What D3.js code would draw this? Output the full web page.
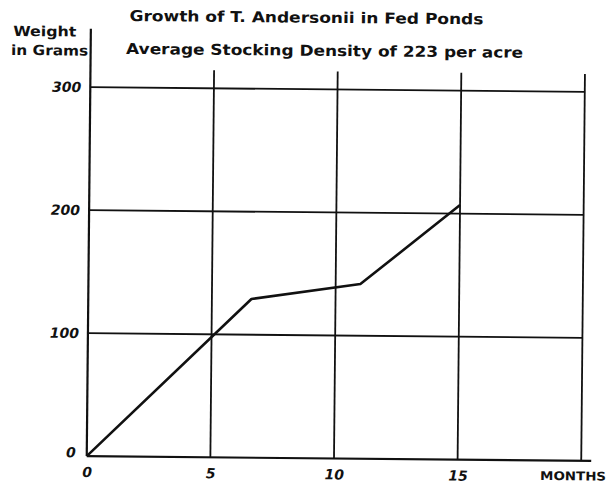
<!DOCTYPE html>
<html>
<head>
<meta charset="utf-8">
<script src="https://cdn.jsdelivr.net/npm/d3@7"></script>
<style>
  html, body { margin: 0; padding: 0; background: #fff; }
  svg { display: block; }
  text { fill: #111; }
</style>
</head>
<body>
<script>
// Growth of T. Andersonii in fed ponds: mean weight (g) by month
const months  = [0, 6.6, 11, 15];
const weights = [0, 129, 142, 207];

const xTicks = [0, 5, 10, 15];
const xTickLabels = ["0", "5", "10", "15"];
const xGrid = [5, 10, 15, 20];
const yTicks = [0, 100, 200, 300];
const yTickLabels = ["0", "100", "200", "300"];
const yGrid = [100, 200, 300];

const titleLines = [
  "Growth of T. Andersonii in Fed Ponds",
  "Average Stocking Density of 223 per acre"
];
const yAxisTitle = ["Weight", "in Grams"];
const xAxisTitle = "MONTHS";

const W = 616, H = 483;
const svg = d3.select("body").append("svg")
  .attr("width", W).attr("height", H)
  .attr("viewBox", `0 0 ${W} ${H}`);

// the whole sheet sits slightly turned
const g = svg.append("g").attr("transform", "rotate(0.55, 335, 275)");

const x = d3.scaleLinear().domain([0, 20]).range([88.5, 583]);
const y = d3.scaleLinear().domain([0, 300]).range([458.5, 89.5]);

const ink = "#111";
const tickFont = "'DejaVu Sans', sans-serif";

// horizontal grid lines
g.append("g").selectAll("line").data(yGrid).join("line")
  .attr("x1", x(0)).attr("x2", x(20))
  .attr("y1", d => y(d)).attr("y2", d => y(d))
  .attr("stroke", ink).attr("stroke-width", 1.8);

// vertical grid lines, running a little above the top line
g.append("g").selectAll("line").data(xGrid).join("line")
  .attr("x1", d => x(d)).attr("x2", d => x(d))
  .attr("y1", y(0)).attr("y2", y(300) - 18)
  .attr("stroke", ink).attr("stroke-width", 1.8);

// axes lines
g.append("line")
  .attr("x1", x(0)).attr("x2", x(0))
  .attr("y1", y(0)).attr("y2", 31)
  .attr("stroke", ink).attr("stroke-width", 2.2);
g.append("line")
  .attr("x1", x(0)).attr("x2", x(20) + 10)
  .attr("y1", y(0)).attr("y2", y(0))
  .attr("stroke", ink).attr("stroke-width", 2.2);

// tick labels through d3 axes
const yAxis = d3.axisLeft(y).tickValues(yTicks)
  .tickFormat((d, i) => yTickLabels[i]).tickSize(0).tickPadding(9);
const yAx = g.append("g").attr("transform", `translate(${x(0)},0)`).call(yAxis);
yAx.select(".domain").remove();
yAx.selectAll("text")
  .attr("font-family", tickFont).attr("font-weight", "bold")
  .attr("font-style", "italic").attr("font-size", 14).attr("fill", ink);
yAx.selectAll(".tick").filter(d => d === 0).select("text").attr("dy", "0.05em").attr("x", -11);

const xAxis = d3.axisBottom(x).tickValues(xTicks)
  .tickFormat((d, i) => xTickLabels[i]).tickSize(0).tickPadding(11);
const xAx = g.append("g").attr("transform", `translate(0,${y(0)})`).call(xAxis);
xAx.select(".domain").remove();
xAx.selectAll("text")
  .attr("font-family", tickFont).attr("font-weight", "bold")
  .attr("font-style", "italic").attr("font-size", 14).attr("fill", ink);

// data line
const line = d3.line().x((d, i) => x(months[i])).y(d => y(d));
g.append("path").datum(weights)
  .attr("d", line)
  .attr("fill", "none").attr("stroke", ink)
  .attr("stroke-width", 2.6).attr("stroke-linejoin", "round");

// titles
const titleFont = "'DejaVu Sans', sans-serif";
g.append("text").text(titleLines[0])
  .attr("x", 127).attr("y", 23)
  .attr("font-family", titleFont).attr("font-weight", "bold").attr("font-size", 15)
  .attr("textLength", 354).attr("lengthAdjust", "spacingAndGlyphs");
g.append("text").text(titleLines[1])
  .attr("x", 124).attr("y", 56)
  .attr("font-family", titleFont).attr("font-weight", "bold").attr("font-size", 15)
  .attr("textLength", 397).attr("lengthAdjust", "spacingAndGlyphs");

g.append("text").text(yAxisTitle[0])
  .attr("x", 11).attr("y", 39)
  .attr("font-family", titleFont).attr("font-weight", "bold").attr("font-size", 14)
  .attr("textLength", 63).attr("lengthAdjust", "spacingAndGlyphs");
g.append("text").text(yAxisTitle[1])
  .attr("x", 9).attr("y", 58)
  .attr("font-family", titleFont).attr("font-weight", "bold").attr("font-size", 14)
  .attr("textLength", 77).attr("lengthAdjust", "spacingAndGlyphs");

g.append("text").text(xAxisTitle)
  .attr("x", 542).attr("y", 478)
  .attr("font-family", titleFont).attr("font-weight", "bold").attr("font-size", 12)
  .attr("textLength", 66).attr("lengthAdjust", "spacingAndGlyphs");
</script>
</body>
</html>
